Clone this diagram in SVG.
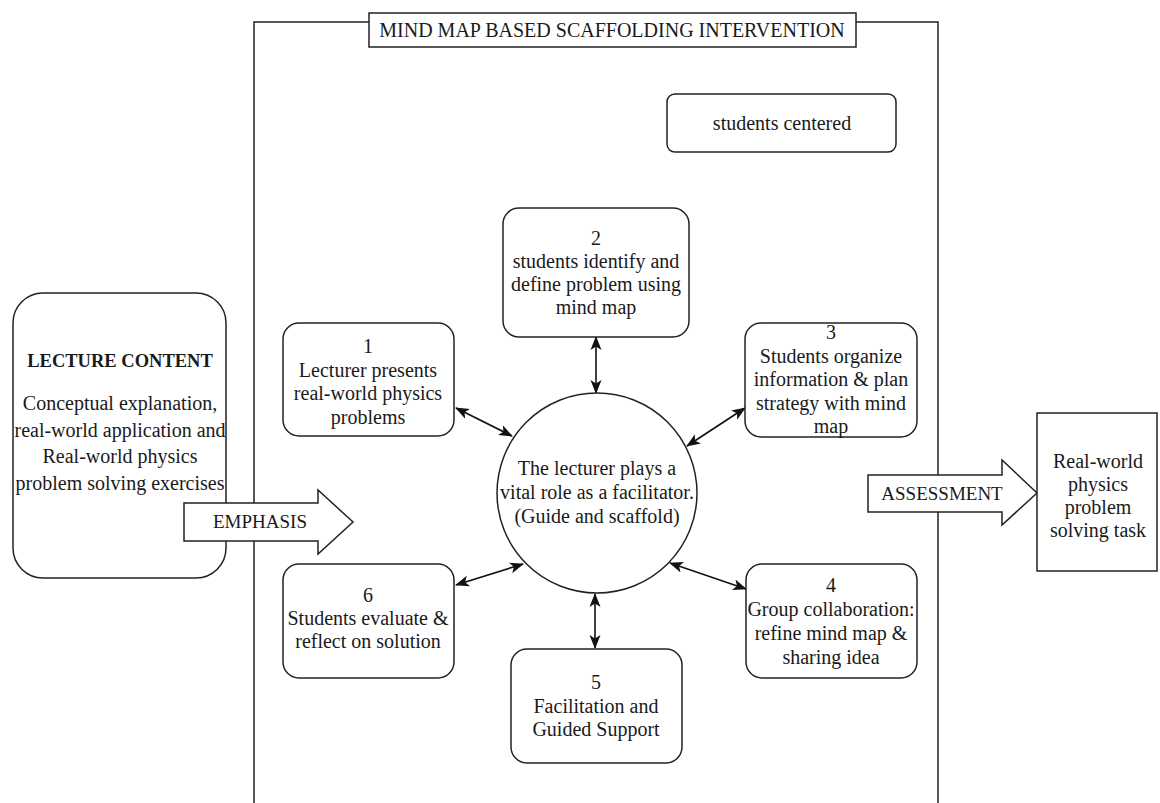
<svg xmlns="http://www.w3.org/2000/svg" width="1160" height="803" viewBox="0 0 1160 803">
<style>
.box{fill:#fff;stroke:#222;stroke-width:1.5}
.t{font-family:"Liberation Serif","Times New Roman",serif;font-size:20px;fill:#1a1a1a;text-anchor:middle}
.c{font-size:19px}
.b{font-weight:bold;font-size:18.5px}
.ln{stroke:#111;stroke-width:1.6;fill:none;marker-start:url(#ah);marker-end:url(#ah)}
</style>
<defs>
<marker id="ah" markerUnits="userSpaceOnUse" markerWidth="14" markerHeight="12" refX="13" refY="6" orient="auto-start-reverse" viewBox="0 0 14 12">
<path d="M0,0.5 L14,6 L0,11.5 L3.5,6 Z" fill="#111"/>
</marker>
</defs>
<g id="frame">
<path d="M254,803 V22 H938 V803" fill="none" stroke="#222" stroke-width="1.5"/>
</g>
<g id="title">
<rect class="box" x="369" y="13" width="487" height="34" stroke-width="2"/>
<text class="t" x="612" y="37" font-size="19">MIND MAP BASED SCAFFOLDING INTERVENTION</text>
</g>
<g id="lecture">
<rect class="box" x="13" y="293" width="213" height="285" rx="30"/>
<text class="t b" x="120" y="367">LECTURE CONTENT</text>
<text class="t" x="120" y="410">Conceptual explanation,</text>
<text class="t" x="120" y="436.5">real-world application and</text>
<text class="t" x="120" y="463">Real-world physics</text>
<text class="t" x="120" y="490">problem solving exercises</text>
</g>
<g id="emphasis">
<path class="box" d="M184,503 H318 V490 L353,522 L318,554 V541 H184 Z"/>
<text class="t c" x="260" y="528">EMPHASIS</text>
</g>
<g id="assessment">
<path class="box" d="M868,475 H1002 V460 L1037,493 L1002,525 V512 H868 Z"/>
<text class="t c" x="942" y="500">ASSESSMENT</text>
</g>
<g id="task">
<rect class="box" x="1037" y="413" width="120" height="158"/>
<text class="t" x="1098" y="468">Real-world</text>
<text class="t" x="1098" y="491">physics</text>
<text class="t" x="1098" y="514">problem</text>
<text class="t" x="1098" y="537">solving task</text>
</g>
<g id="centered">
<rect class="box" x="667" y="94" width="229" height="58" rx="8"/>
<text class="t" x="782" y="130">students centered</text>
</g>
<g id="connectors">
<line class="ln" x1="596" y1="337" x2="596" y2="393"/>
<line class="ln" x1="456" y1="408" x2="512" y2="436"/>
<line class="ln" x1="745" y1="408" x2="687" y2="446"/>
<line class="ln" x1="456" y1="585" x2="523" y2="564"/>
<line class="ln" x1="746" y1="589" x2="670" y2="563"/>
<line class="ln" x1="595" y1="594" x2="595" y2="648"/>
</g>
<g id="circle">
<circle class="box" cx="597" cy="493" r="100"/>
<text class="t" x="597" y="475">The lecturer plays a</text>
<text class="t" x="597" y="499">vital role as a facilitator.</text>
<text class="t" x="597" y="523">(Guide and scaffold)</text>
</g>
<g id="n1">
<rect class="box" x="283" y="323" width="171" height="113" rx="16"/>
<text class="t" x="368" y="353">1</text>
<text class="t" x="368" y="376.5">Lecturer presents</text>
<text class="t" x="368" y="400">real-world physics</text>
<text class="t" x="368" y="423.5">problems</text>
</g>
<g id="n2">
<rect class="box" x="503" y="208" width="186" height="129" rx="16"/>
<text class="t" x="596" y="245">2</text>
<text class="t" x="596" y="268">students identify and</text>
<text class="t" x="596" y="291">define problem using</text>
<text class="t" x="596" y="314">mind map</text>
</g>
<g id="n3">
<rect class="box" x="745" y="323" width="172" height="114" rx="16"/>
<text class="t" x="831" y="339">3</text>
<text class="t" x="831" y="362.5">Students organize</text>
<text class="t" x="831" y="386">information &amp; plan</text>
<text class="t" x="831" y="409.5">strategy with mind</text>
<text class="t" x="831" y="433">map</text>
</g>
<g id="n4">
<rect class="box" x="746" y="564" width="171" height="114" rx="16"/>
<text class="t" x="831" y="592">4</text>
<text class="t" x="831" y="616">Group collaboration:</text>
<text class="t" x="831" y="640">refine mind map &amp;</text>
<text class="t" x="831" y="663.5">sharing idea</text>
</g>
<g id="n5">
<rect class="box" x="511" y="649" width="171" height="114" rx="16"/>
<text class="t" x="596" y="689">5</text>
<text class="t" x="596" y="712.5">Facilitation and</text>
<text class="t" x="596" y="736">Guided Support</text>
</g>
<g id="n6">
<rect class="box" x="283" y="564" width="171" height="114" rx="16"/>
<text class="t" x="368" y="602">6</text>
<text class="t" x="368" y="625">Students evaluate &amp;</text>
<text class="t" x="368" y="648">reflect on solution</text>
</g>
</svg>
